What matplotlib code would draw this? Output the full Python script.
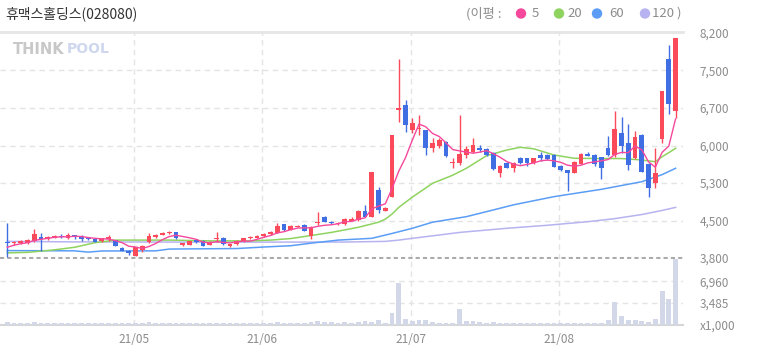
import matplotlib
matplotlib.use("Agg")
import matplotlib.pyplot as plt
from matplotlib.patches import Ellipse
import numpy as np

plt.rcParams["font.family"] = ["Noto Sans CJK KR", "DejaVu Sans"]

title = "휴맥스홀딩스(028080)"

# daily candles (2021-04-06 .. 2021-08-26), KRW
opens = [4120, 4090, 4100, 4090, 4140, 4205, 4170, 4200, 4240, 4200,
         4240, 4215, 4180, 4170, 4130, 4180, 4150, 3990, 3945, 3845,
         3955, 4110, 4210, 4255, 4280, 4300, 4060, 4060, 4140, 4140,
         4050, 4170, 4200, 4040, 4070, 4140, 4190, 4197, 4230, 4263,
         4283, 4458, 4347, 4410, 4445, 4236, 4478, 4608, 4510, 4465,
         4465, 4530, 4543, 4720, 4608, 5130, 4725, 4987, 6700, 6792,
         6303, 6320, 6303, 5957, 5990, 6075, 5660, 5652, 5814, 5880,
         5945, 5926, 5860, 5470, 5665, 5566, 5750, 5750, 5660, 5814,
         5814, 5814, 5600, 5520, 5470, 5640, 5834, 5814, 5769, 5945,
         5814, 6250, 6055, 5750, 6205, 5638, 5261, 6121, 7686, 6675]
highs = [4480, 4140, 4150, 4180, 4360, 4280, 4230, 4240, 4260, 4290,
         4250, 4250, 4190, 4180, 4200, 4240, 4160, 4010, 3950, 4010,
         4050, 4290, 4270, 4310, 4320, 4310, 4100, 4140, 4150, 4150,
         4130, 4315, 4210, 4080, 4150, 4200, 4230, 4250, 4290, 4330,
         4480, 4470, 4440, 4440, 4460, 4420, 4695, 4620, 4530, 4510,
         4590, 4600, 4740, 4837, 5476, 5195, 4790, 6205, 7686, 6890,
         6530, 6599, 6310, 6140, 6150, 6080, 5750, 6600, 5990, 6140,
         6010, 5960, 5870, 5610, 5680, 5680, 5770, 5760, 5760, 5880,
         5830, 5830, 5610, 5530, 5690, 5850, 5880, 5830, 5780, 6186,
         6675, 6550, 6420, 6280, 6220, 5650, 5945, 7066, 7965, 8100]
lows = [3820, 4060, 4080, 4080, 4120, 3935, 4160, 4190, 4190, 4180,
        4180, 4140, 4150, 4110, 4120, 4140, 4030, 3940, 3860, 3840,
        3920, 4100, 4200, 4240, 4260, 4170, 4040, 4050, 4100, 4030,
        4050, 4120, 4060, 4020, 4060, 4120, 4180, 4190, 4220, 4250,
        4280, 4330, 4340, 4400, 4320, 4180, 4445, 4500, 4460, 4450,
        4440, 4520, 4530, 4600, 4600, 4680, 4720, 4987, 6465, 6270,
        6235, 6205, 5815, 5880, 5960, 5780, 5555, 5620, 5750, 5850,
        5880, 5800, 5530, 5390, 5560, 5490, 5640, 5590, 5630, 5690,
        5720, 5580, 5500, 5116, 5460, 5630, 5790, 5600, 5350, 5800,
        5780, 5847, 5520, 5730, 5476, 5000, 5163, 6050, 6616, 6532]
closes = [4090, 4110, 4120, 4150, 4265, 4170, 4215, 4230, 4205, 4250,
          4215, 4170, 4165, 4120, 4195, 4195, 4035, 3945, 3895, 4010,
          4040, 4230, 4240, 4280, 4300, 4185, 4080, 4130, 4120, 4035,
          4120, 4190, 4074, 4060, 4130, 4185, 4205, 4236, 4270, 4302,
          4425, 4347, 4425, 4425, 4335, 4412, 4510, 4510, 4478, 4490,
          4563, 4545, 4720, 4608, 5476, 4739, 4772, 6205, 6714, 6401,
          6434, 6336, 5945, 6055, 6108, 5795, 5683, 5828, 5931, 6003,
          5912, 5814, 5535, 5600, 5566, 5652, 5665, 5660, 5750, 5762,
          5730, 5585, 5520, 5470, 5672, 5834, 5800, 5633, 5555, 5814,
          6323, 5990, 5619, 6160, 5476, 5163, 5456, 7066, 6812, 8100]
# volume, x1,000 shares
volumes = [550, 300, 280, 300, 420, 380, 300, 280, 270, 300,
           280, 270, 260, 270, 280, 270, 320, 300, 330, 350,
           300, 400, 300, 300, 330, 300, 280, 270, 260, 280,
           260, 350, 300, 270, 280, 290, 300, 300, 320, 350,
           400, 350, 350, 330, 350, 400, 650, 450, 400, 380,
           420, 380, 500, 600, 550, 850, 330, 1950, 6750, 950,
           620, 830, 830, 480, 320, 320, 320, 2480, 580, 650,
           480, 380, 480, 380, 320, 300, 300, 280, 280, 300,
           280, 300, 280, 350, 320, 320, 300, 300, 350, 825,
           3580, 1380, 825, 825, 660, 460, 990, 5390, 4125, 10450]

# moving averages
ma5 = [4010, 4050, 4080, 4100, 4145, 4165, 4185, 4205, 4215, 4215,
       4225, 4220, 4200, 4185, 4175, 4170, 4140, 4100, 4030, 4015,
       3985, 4025, 4085, 4160, 4220, 4245, 4220, 4195, 4165, 4110,
       4095, 4120, 4105, 4095, 4115, 4130, 4130, 4165, 4205, 4240,
       4290, 4315, 4355, 4385, 4390, 4390, 4420, 4440, 4450, 4470,
       4510, 4515, 4560, 4585, 4760, 4815, 4860, 5160, 5500, 5765,
       6105, 6420, 6365, 6235, 6175, 6050, 5920, 5895, 5870, 5850,
       5870, 5900, 5840, 5770, 5685, 5635, 5605, 5630, 5660, 5700,
       5715, 5700, 5670, 5615, 5595, 5615, 5660, 5680, 5700, 5725,
       5825, 5865, 5860, 5990, 5915, 5680, 5575, 5865, 5990, 6520]
ma20_day = [0, 3, 5, 7, 10, 13, 16, 24, 30, 36, 39, 42, 45, 48, 52, 55, 56, 57, 58,
            59, 60, 63, 66, 68, 71, 74, 76, 78, 81, 84, 88, 91, 94, 96, 97, 98, 99]
ma20 = [3900, 3910, 3935, 3960, 4010, 4100, 4150, 4150, 4135, 4135, 4150, 4180, 4240,
        4300, 4400, 4500, 4560, 4660, 4790, 4890, 4990, 5261, 5420, 5554, 5800, 5912,
        5965, 5935, 5814, 5750, 5745, 5745, 5717, 5683, 5780, 5860, 5945]
ma60_day = [0, 10, 12, 14, 22, 24, 34, 38, 42, 45, 49, 54, 57, 60, 63, 68, 72, 75,
            81, 88, 94, 97, 99]
ma60 = [3945, 3940, 3915, 3937, 3940, 3975, 3985, 4015, 4040, 4090, 4150, 4185, 4280,
        4381, 4500, 4608, 4740, 4840, 5000, 5143, 5292, 5430, 5554]
ma120_day = [0, 10, 30, 50, 56, 58, 60, 64, 67, 74, 80, 86, 90, 94, 97, 99]
ma120 = [4125, 4115, 4110, 4112, 4125, 4150, 4185, 4250, 4300, 4381, 4440, 4510,
         4570, 4650, 4730, 4790]

month_pos = [18.8, 37.8, 59.8, 81.8]
month_labels = ["21/05", "21/06", "21/07", "21/08"]
price_labels = ["3,800", "4,500", "5,300", "6,000", "6,700", "7,500", "8,200"]
vol_ticks = [0, 3485, 6960]
vol_labels = ["x1,000", "3,485", "6,960"]
legend_periods = ["5", "20", "60", "120 )"]

RED = "#fb4b5b"
BLUE = "#3f6fe3"
VOL = "#d3d8e8"
MA_COLORS = ["#f5489c", "#8fd35f", "#5b9df5", "#b7b3f0"]
GRID = "#e4e4e4"
TXT = "#8c8c8c"

W, H = 758, 355
fig = plt.figure(figsize=(W / 100, H / 100), dpi=100)


def box(x0, y0, x1, y1):
    return [x0 / W, 1 - y1 / H, (x1 - x0) / W, (y1 - y0) / H]


ax = fig.add_axes(box(0, 31.5, 683, 258.5))
axv = fig.add_axes(box(0, 258.5, 683, 325), sharex=ax)

x = np.arange(len(closes))
o, h, l, c = (np.array(a, dtype=float) for a in (opens, highs, lows, closes))
cols = np.where(c >= o, RED, BLUE)

# price panel
for v in np.linspace(3800, 8200, 7)[1:-1]:
    ax.axhline(v, color=GRID, lw=1, ls=(0, (4, 3)), zorder=0)
for m in month_pos:
    ax.axvline(m, color=GRID, lw=1, ls=(0, (4, 3)), zorder=0)
    axv.axvline(m, color=GRID, lw=1, ls=(0, (4, 3)), zorder=0)
ax.axhline(3800, color="#ababab", lw=1.5, ls=(0, (2, 1.5)), zorder=1)

ax.plot(ma120_day, ma120, color=MA_COLORS[3], lw=1.1, zorder=2)
ax.plot(ma60_day, ma60, color=MA_COLORS[2], lw=1.1, zorder=2)
ax.plot(ma20_day, ma20, color=MA_COLORS[1], lw=1.1, zorder=2)

ax.vlines(x, l, h, colors=cols, lw=1, zorder=3)
ax.bar(x, np.maximum(np.abs(c - o), 25), bottom=np.minimum(o, c), width=0.7,
       color=cols, linewidth=0, zorder=3)
ax.plot(x, ma5, color=MA_COLORS[0], lw=1, zorder=4)

ax.set_xlim(-1.08, 100.1)
ax.set_ylim(3800 - 0.5 * 4400 / 225, 8200 + 1.5 * 4400 / 225)
ax.set_yticks(np.linspace(3800, 8200, 7))
ax.set_yticklabels(price_labels)
ax.yaxis.tick_right()
ax.tick_params(axis="y", length=0, pad=12, labelcolor=TXT, labelsize=8.5)
ax.tick_params(axis="x", bottom=False, labelbottom=False)
for s in ax.spines.values():
    s.set_visible(False)
ax.spines["top"].set_visible(True)
ax.spines["top"].set_color("#e6e6e6")
ax.spines["top"].set_linewidth(2)

# volume panel
for v in vol_ticks[1:]:
    axv.axhline(v, color=GRID, lw=1, ls=(0, (4, 3)), zorder=0)
axv.bar(x, volumes, width=0.72, color=VOL, linewidth=0, zorder=2)
axv.set_ylim(0, 10580)
axv.set_yticks(vol_ticks)
axv.set_yticklabels(vol_labels)
axv.yaxis.tick_right()
axv.tick_params(axis="y", length=0, pad=12, labelcolor=TXT, labelsize=8.5)
axv.set_xticks(month_pos)
axv.set_xticklabels(month_labels)
axv.tick_params(axis="x", length=0, pad=6, labelcolor=TXT, labelsize=8.5)
for s in axv.spines.values():
    s.set_visible(False)
axv.spines["bottom"].set_visible(True)
axv.spines["bottom"].set_color("#d6d6d6")
axv.spines["bottom"].set_linewidth(1.5)
axv.spines["bottom"].set_zorder(1)

# header
fig.text(5 / W, 1 - 14 / H, title, fontsize=10, color="#333333", va="center")
fig.text(466 / W, 1 - 13.5 / H, "(이평 :", fontsize=9.5, color=TXT, va="center")
dot_x = [521, 559, 597, 645]
lab_x = [532, 567, 609, 652]
for dx, lx, col, lab in zip(dot_x, lab_x, MA_COLORS, legend_periods):
    fig.add_artist(Ellipse((dx / W, 1 - 13.5 / H), 9 / W, 9 / H,
                           transform=fig.transFigure, color=col))
    fig.text(lx / W, 1 - 13.5 / H, lab, fontsize=9.5, color=TXT, va="center")

# watermark
fig.text(13 / W, 1 - 49 / H, "THINK", fontsize=10.5, fontweight="bold",
         color="#c8c8c8", va="center", family="DejaVu Sans")
fig.text(67 / W, 1 - 49 / H, "POOL", fontsize=10, fontweight="bold",
         color="#cfd7ee", va="center", family="DejaVu Sans")

fig.savefig("out.png", dpi=100)
